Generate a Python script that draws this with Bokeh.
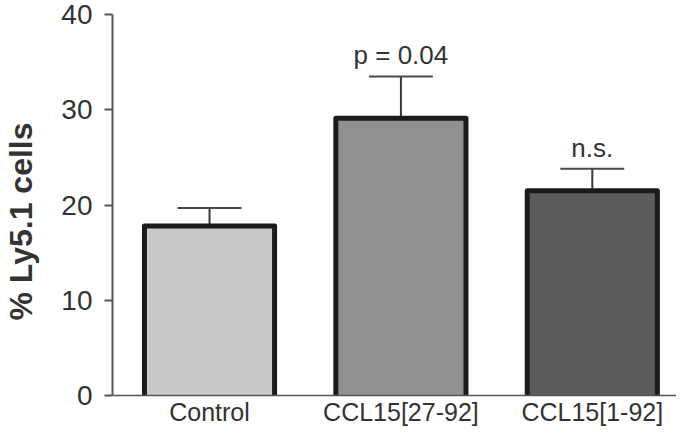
from bokeh.plotting import figure
from bokeh.models import Range1d, FixedTicker, ColumnDataSource, Span
from bokeh.embed import file_html
from bokeh.resources import INLINE
from bokeh.core.properties import value

categories = ["Control", "CCL15[27-92]", "CCL15[1-92]"]
means = [17.8, 29.1, 21.5]
errors = [1.9, 4.4, 2.3]
annotations = ["", "p = 0.04", "n.s."]
fills = ["#c9c9cb", "#8f9092", "#5b5c5e"]
y_ticks = [0, 10, 20, 30, 40]

FONT = "Liberation Sans"
BAR_W = 0.68
CAP_HALF = 0.167
xs = list(range(len(categories)))
upper = [m + e for m, e in zip(means, errors)]

p = figure(width=676, height=428, output_backend="svg", toolbar_location=None,
           x_range=Range1d(-0.507, 2.44), y_range=Range1d(-3.46, 40),
           x_axis_location=None)
p.min_border_left = 111
p.min_border_right = 0
p.min_border_top = 14
p.min_border_bottom = 0
p.outline_line_color = None
p.grid.visible = False
p.background_fill_color = "white"
p.border_fill_color = "white"

src = ColumnDataSource(dict(
    x=xs, top=means, up=upper, fill=fills, zero=[0] * len(xs), cat=categories,
    x0=[x - CAP_HALF for x in xs], x1=[x + CAP_HALF for x in xs],
    ox=[[x - BAR_W / 2, x - BAR_W / 2, x + BAR_W / 2, x + BAR_W / 2] for x in xs],
    oy=[[0, m, m, 0] for m in means],
))

# error bars
p.segment(x0="x", y0="top", x1="x", y1="up", source=src, line_color="#3a3a3a", line_width=2)
p.segment(x0="x0", y0="up", x1="x1", y1="up", source=src, line_color="#4a4a4a", line_width=2)

# bars: fill, then open outline (no bottom edge)
p.vbar(x="x", top="top", bottom=0, width=BAR_W, source=src, fill_color="fill",
       line_color=None)
p.multi_line(xs="ox", ys="oy", source=src, line_color="#1b1b1b", line_width=5,
             line_join="round")

# x axis baseline
p.add_layout(Span(location=0, dimension="width", line_color="#555555", line_width=1.5))

# annotations
ann_src = ColumnDataSource(dict(x=xs, y=upper, t=annotations))
p.text(x="x", y="y", text="t", source=ann_src, text_align="center",
       text_baseline="bottom", y_offset=-6, text_font=value(FONT),
       text_font_size="26px", text_color="#333333")

# category labels
p.text(x="x", y="zero", text="cat", source=src, text_align="center",
       text_baseline="top", y_offset=2, text_font=value(FONT),
       text_font_size="25px", text_color="#333333")

# y axis
ya = p.yaxis[0]
ya.bounds = (0, 40)
ya.ticker = FixedTicker(ticks=y_ticks)
ya.minor_tick_line_color = None
ya.axis_line_color = "#555555"
ya.axis_line_width = 2
ya.major_tick_line_color = "#555555"
ya.major_tick_line_width = 2
ya.major_tick_in = 0
ya.major_tick_out = 8
ya.major_label_text_font = FONT
ya.major_label_text_font_size = "28px"
ya.major_label_text_color = "#333333"
ya.major_label_standoff = 12
ya.axis_label = "% Ly5.1 cells"
ya.axis_label_text_font = FONT
ya.axis_label_text_font_style = "bold"
ya.axis_label_text_font_size = "32px"
ya.axis_label_text_color = "#333333"
ya.axis_label_standoff = 19

open("out.html", "w").write(file_html(p, INLINE))
